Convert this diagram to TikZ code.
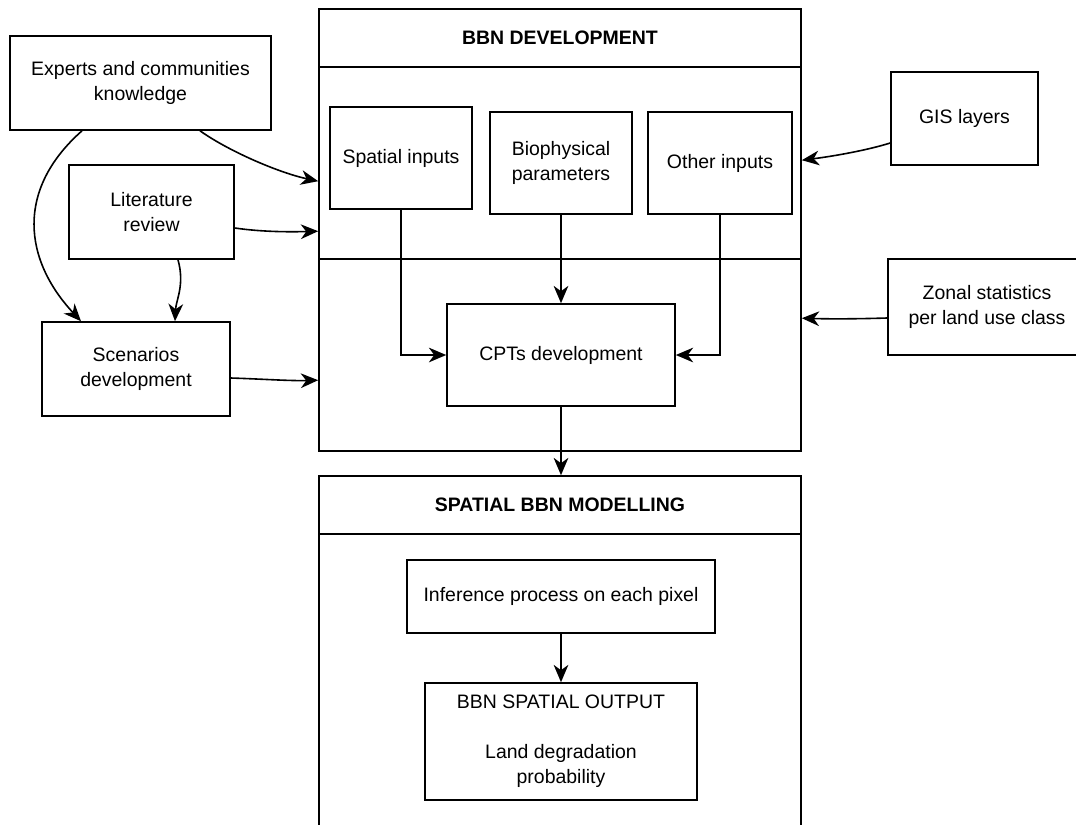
\documentclass[tikz,border=0pt]{standalone}
\usepackage{fontspec}
\setmainfont{Liberation Sans}
\usetikzlibrary{arrows.meta,calc}

\newcommand{\bodysize}{\fontsize{14.6pt}{18.75pt}\selectfont}

\tikzset{
  box/.style={draw, line width=1.2pt, inner sep=0pt, align=center, fill=white, font=\bodysize},
  band/.style={draw, line width=1.2pt, inner sep=0pt, align=center, font=\bodysize\bfseries},
  frame/.style={draw, line width=1.2pt, inner sep=0pt},
  arr/.style={line width=1.2pt, -{Stealth[length=13pt, width=11pt, inset=4pt]}},
  lnk/.style={line width=1.2pt}
}

\begin{document}
\begin{tikzpicture}[x=0.75pt, y=-0.75pt]
  \useasboundingbox (0,0) rectangle (1076,825);
  \clip (0,0) rectangle (1076,825);
  \fill[white] (0,0) rectangle (1076,825);

  % BBN development frame
  \node[frame, minimum width=361.5pt, minimum height=331.5pt] (bbn) at (560,230) {};
  \node[band, minimum width=361.5pt, minimum height=43.5pt] (bbntitle) at (560,38) {BBN DEVELOPMENT};
  \draw[lnk] (bbn.west |- 0,259) -- (bbn.east |- 0,259);

  % spatial modelling frame (runs past the bottom edge)
  \node[frame, minimum width=361.5pt, minimum height=318pt] (sm) at (560,688) {};
  \node[band, minimum width=361.5pt, minimum height=43.5pt] (smtitle) at (560,505) {SPATIAL BBN MODELLING};

  % left-hand sources
  \node[box, minimum width=195.75pt, minimum height=70.5pt] (experts) at (140.5,83) {Experts and communities\\knowledge};
  \node[box, minimum width=123.75pt, minimum height=70.5pt] (lit) at (151.5,212) {Literature\\review};
  \node[box, minimum width=141pt, minimum height=70.5pt] (scen) at (136,369) {Scenarios\\development};

  % right-hand sources
  \node[box, minimum width=110.25pt, minimum height=69.75pt] (gis) at (964.5,118.5) {GIS layers};
  \node[box, minimum width=148.5pt, minimum height=72pt] (zonal) at (987,307) {Zonal statistics\\per land use class};

  % inputs inside BBN development
  \node[box, minimum width=106.5pt, minimum height=76.5pt] (spatial) at (401,158) {Spatial inputs};
  \node[box, minimum width=106.5pt, minimum height=76.5pt] (bio) at (561,163) {Biophysical\\parameters};
  \node[box, minimum width=108pt, minimum height=76.5pt] (other) at (720,163) {Other inputs};
  \node[box, minimum width=171pt, minimum height=76.5pt] (cpt) at (561,355) {CPTs development};

  % spatial modelling steps
  \node[box, minimum width=231pt, minimum height=54.75pt] (inf) at (561,596.5) {Inference process on each pixel};
  \node[box, minimum width=204pt, minimum height=87.75pt] (out) at (561,741.5) {BBN SPATIAL OUTPUT\\[18.75pt]Land degradation\\probability};

  % connectors inside the frames
  \draw[arr] (spatial.south) |- (cpt.west);
  \draw[arr] (bio.south) -- (bio.south |- cpt.north);
  \draw[arr] (other.south) |- (cpt.east);
  \draw[arr] (cpt.south) -- (cpt.south |- smtitle.north);
  \draw[arr] (inf.south) -- (inf.south |- out.north);

  % connectors from the sources
  \draw[arr] ($(experts.south)+(59.5,0)$) .. controls (230,152) and (280,173) .. ($(bbn.north west)+(0,173)$);
  \draw[arr] ($(lit.east)+(0,16)$) .. controls (262,232) and (290,232) .. ($(bbn.north west)+(0,223)$);
  \draw[arr] ($(scen.east)+(0,9)$) .. controls (262,379) and (290,381) .. ($(bbn.north west)+(0,372)$);
  \draw[arr] ($(experts.south)+(-58.5,0)$) .. controls (15,190) and (24,260) .. ($(scen.north)+(-55,0)$);
  \draw[arr] ($(lit.south)+(26.5,0)$) .. controls (185,285) and (176,300) .. ($(scen.north)+(39,0)$);
  \draw[arr] ($(gis.west)+(0,24.5)$) .. controls (868,150) and (835,156) .. ($(bbn.north east)+(0,152)$);
  \draw[arr] ($(zonal.west)+(0,11)$) .. controls (855,319) and (830,319) .. ($(bbn.north east)+(0,310)$);
\end{tikzpicture}
\end{document}
